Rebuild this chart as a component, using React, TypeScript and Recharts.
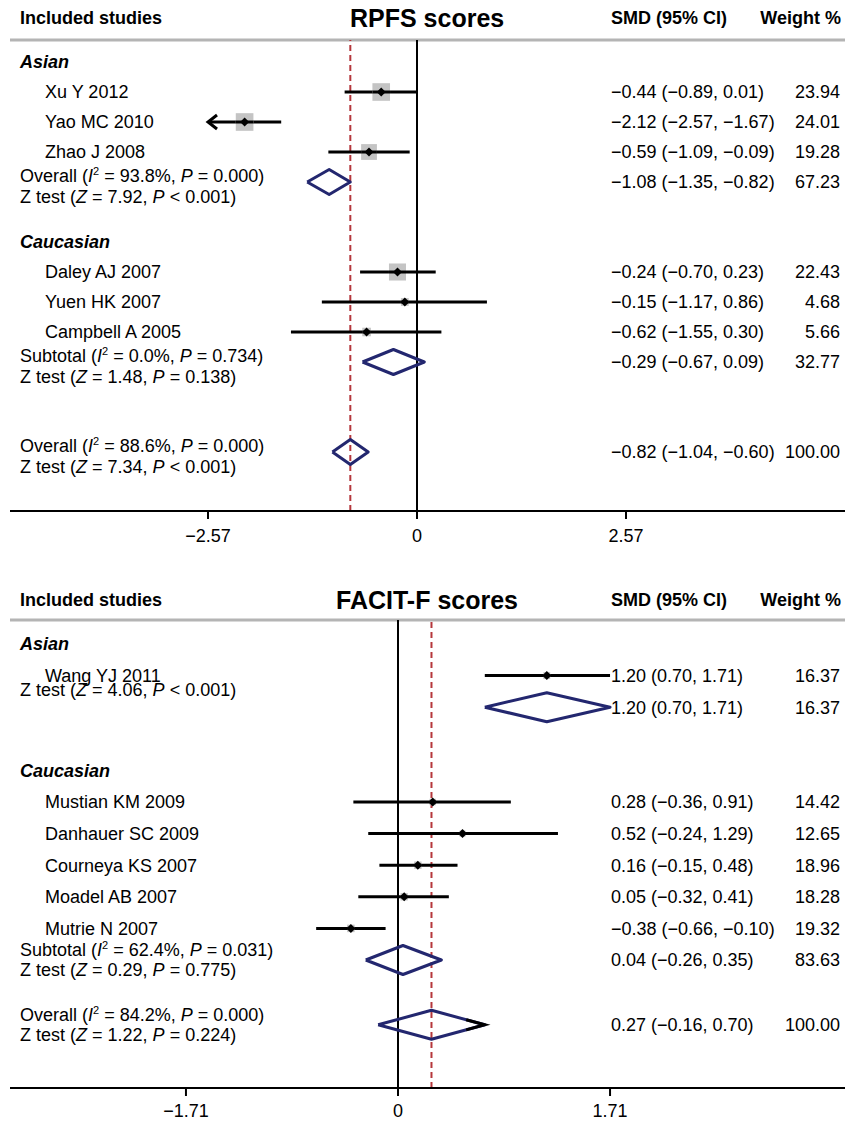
import React from "react";
import { ComposedChart, Scatter, ErrorBar, XAxis, YAxis, ReferenceLine } from "recharts";

document.body.style.margin = "0";

const FONT = '"Liberation Sans", Arial, Helvetica, sans-serif';
const NAVY = "#23276f";
const RED = "#b5373c";
const GREY_SQ = "#c4c4c4";
const W = 854;
const PLOT_L = 10;
const PLOT_R = 845;
const BODY = 18;

// ---- RPFS scores ----
const rpfsAsianStudies = ["Xu Y 2012", "Yao MC 2010", "Zhao J 2008"];
const rpfsAsianSmd = [-0.44, -2.12, -0.59];
const rpfsAsianLow = [-0.89, -2.57, -1.09];
const rpfsAsianHigh = [0.01, -1.67, -0.09];
const rpfsAsianWeight = [23.94, 24.01, 19.28];

const rpfsCaucStudies = ["Daley AJ 2007", "Yuen HK 2007", "Campbell A 2005"];
const rpfsCaucSmd = [-0.24, -0.15, -0.62];
const rpfsCaucLow = [-0.7, -1.17, -1.55];
const rpfsCaucHigh = [0.23, 0.86, 0.3];
const rpfsCaucWeight = [22.43, 4.68, 5.66];

const rpfsPooledLabel = ["Overall", "Subtotal", "Overall"];
const rpfsPooledSmd = [-1.08, -0.29, -0.82];
const rpfsPooledLow = [-1.35, -0.67, -1.04];
const rpfsPooledHigh = [-0.82, 0.09, -0.6];
const rpfsPooledWeight = [67.23, 32.77, 100];
const rpfsPooledI2 = [93.8, 0.0, 88.6];
const rpfsPooledPHet = ["0.000", "0.734", "0.000"];
const rpfsPooledZ = [7.92, 1.48, 7.34];
const rpfsPooledPZ = ["< 0.001", "= 0.138", "< 0.001"];
const rpfsTicks = [-2.57, 0, 2.57];
const rpfsTruncated = ["Yao MC 2010"];

// ---- FACIT-F scores ----
const facitAsianStudies = ["Wang YJ 2011"];
const facitAsianSmd = [1.2];
const facitAsianLow = [0.7];
const facitAsianHigh = [1.71];
const facitAsianWeight = [16.37];

const facitCaucStudies = ["Mustian KM 2009", "Danhauer SC 2009", "Courneya KS 2007", "Moadel AB 2007", "Mutrie N 2007"];
const facitCaucSmd = [0.28, 0.52, 0.16, 0.05, -0.38];
const facitCaucLow = [-0.36, -0.24, -0.15, -0.32, -0.66];
const facitCaucHigh = [0.91, 1.29, 0.48, 0.41, -0.1];
const facitCaucWeight = [14.42, 12.65, 18.96, 18.28, 19.32];

const facitPooledLabel = ["", "Subtotal", "Overall"];
const facitPooledSmd = [1.2, 0.04, 0.27];
const facitPooledLow = [0.7, -0.26, -0.16];
const facitPooledHigh = [1.71, 0.35, 0.7];
const facitPooledWeight = [16.37, 83.63, 100];
const facitPooledI2 = [null, 62.4, 84.2];
const facitPooledPHet = [null, "0.031", "0.000"];
const facitPooledZ = [4.06, 0.29, 1.22];
const facitPooledPZ = ["< 0.001", "= 0.775", "= 0.224"];
const facitTicks = [-1.71, 0, 1.71];
const facitTruncated: string[] = [];

const groupNames = ["Asian", "Caucasian"];

type Group = { name: string; studies: string[]; smd: number[]; low: number[]; high: number[]; weight: number[] };
type Pooled = {
  label: string; smd: number; low: number; high: number; weight: number;
  i2: number | null; pHet: string | null; z: number; pZ: string;
};

const fmt = (v: number) => (v < 0 ? "\u2212" : "") + Math.abs(v).toFixed(2);
const ciText = (s: number, l: number, h: number) => `${fmt(s)} (${fmt(l)}, ${fmt(h)})`;

function makePooled(label: string[], smd: number[], low: number[], high: number[], weight: number[],
  i2: (number | null)[], pHet: (string | null)[], z: number[], pZ: string[]): Pooled[] {
  return label.map((lb, i) => ({
    label: lb, smd: smd[i], low: low[i], high: high[i], weight: weight[i],
    i2: i2[i], pHet: pHet[i], z: z[i], pZ: pZ[i],
  }));
}

type PanelCfg = {
  title: string;
  titleLeft: number;
  height: number;
  plotTop: number;
  plotBottom: number;
  headerY: number;
  zeroPx: number;
  pxPerUnit: number;
  rowBase: number;
  rowUnit: number;
  ticks: number[];
  tickMargin: number;
  groups: Group[];
  pooled: Pooled[];
  truncated: string[];
  groupGap: number;
  overallGap: number;
  diamondHalf: number;
  squareScale: number;
  statsOffset: [number, number];
  blackTip: boolean;
};

const rpfsCfg: PanelCfg = {
  title: "RPFS scores",
  titleLeft: 350,
  height: 560,
  plotTop: 40,
  plotBottom: 511,
  headerY: 18,
  zeroPx: 417,
  pxPerUnit: 81.32,
  rowBase: 62,
  rowUnit: 30,
  ticks: rpfsTicks,
  tickMargin: 10,
  groups: [
    { name: groupNames[0], studies: rpfsAsianStudies, smd: rpfsAsianSmd, low: rpfsAsianLow, high: rpfsAsianHigh, weight: rpfsAsianWeight },
    { name: groupNames[1], studies: rpfsCaucStudies, smd: rpfsCaucSmd, low: rpfsCaucLow, high: rpfsCaucHigh, weight: rpfsCaucWeight },
  ],
  pooled: makePooled(rpfsPooledLabel, rpfsPooledSmd, rpfsPooledLow, rpfsPooledHigh, rpfsPooledWeight,
    rpfsPooledI2, rpfsPooledPHet, rpfsPooledZ, rpfsPooledPZ),
  truncated: rpfsTruncated,
  groupGap: 2,
  overallGap: 3,
  diamondHalf: 12.5,
  squareScale: 3.6,
  statsOffset: [-6, 15],
  blackTip: false,
};

const facitCfg: PanelCfg = {
  title: "FACIT-F scores",
  titleLeft: 336,
  height: 561,
  plotTop: 60,
  plotBottom: 528,
  headerY: 40,
  zeroPx: 398,
  pxPerUnit: 124,
  rowBase: 84,
  rowUnit: 31.6,
  ticks: facitTicks,
  tickMargin: 8,
  groups: [
    { name: groupNames[0], studies: facitAsianStudies, smd: facitAsianSmd, low: facitAsianLow, high: facitAsianHigh, weight: facitAsianWeight },
    { name: groupNames[1], studies: facitCaucStudies, smd: facitCaucSmd, low: facitCaucLow, high: facitCaucHigh, weight: facitCaucWeight },
  ],
  pooled: makePooled(facitPooledLabel, facitPooledSmd, facitPooledLow, facitPooledHigh, facitPooledWeight,
    facitPooledI2, facitPooledPHet, facitPooledZ, facitPooledPZ),
  truncated: facitTruncated,
  groupGap: 2,
  overallGap: 2.05,
  diamondHalf: 14.5,
  squareScale: 1.7,
  statsOffset: [-10, 10],
  blackTip: true,
};

const txt = (cy: number) => cy + BODY * 0.36;

function ForestPanel({ cfg }: { cfg: PanelCfg }) {
  const xDomain: [number, number] = [
    (PLOT_L - cfg.zeroPx) / cfg.pxPerUnit,
    (PLOT_R - cfg.zeroPx) / cfg.pxPerUnit,
  ];
  const yDomain: [number, number] = [
    (cfg.plotTop - cfg.rowBase) / cfg.rowUnit,
    (cfg.plotBottom - cfg.rowBase) / cfg.rowUnit,
  ];
  const dHalf = cfg.diamondHalf / cfg.rowUnit;

  // lay the rows out top to bottom
  const groupRows: any[] = [];
  const studyRows: any[] = [];
  const pooledRows: any[] = [];
  let r = 0;
  cfg.groups.forEach((g, gi) => {
    groupRows.push({ x: 0, y: r, name: g.name });
    r += 1;
    g.studies.forEach((s, i) => {
      studyRows.push({
        x: g.smd[i], y: r, name: s, low: g.low[i], high: g.high[i], weight: g.weight[i],
        err: [g.smd[i] - g.low[i], g.high[i] - g.smd[i]],
      });
      r += 1;
    });
    pooledRows.push({ x: cfg.pooled[gi].smd, y: r, ...cfg.pooled[gi] });
    r += cfg.groupGap;
  });
  r = r - cfg.groupGap + cfg.overallGap;
  const overall = cfg.pooled[cfg.pooled.length - 1];
  pooledRows.push({ x: overall.smd, y: r, ...overall });

  const diamonds = pooledRows.map((p) => [
    { x: p.low, y: p.y },
    { x: p.smd, y: p.y - dHalf },
    { x: p.high, y: p.y },
    { x: p.smd, y: p.y + dHalf },
    { x: p.low, y: p.y },
  ]);
  const tipLen = 0.15;
  const tip = (() => {
    const p = pooledRows[pooledRows.length - 1];
    const f = tipLen / (p.high - p.smd);
    return [
      { x: p.high - tipLen, y: p.y - dHalf * f },
      { x: p.high, y: p.y },
      { x: p.high - tipLen, y: p.y + dHalf * f },
    ];
  })();
  const arrows = studyRows.filter((s) => cfg.truncated.includes(s.name)).map((s) => ({ x: s.low, y: s.y }));

  const GroupLabel = (props: any) => (
    <text x={20} y={txt(props.cy)} fontFamily={FONT} fontSize={BODY} fontWeight="bold" fontStyle="italic" fill="#000">
      {props.payload.name}
    </text>
  );

  const StudyMark = (props: any) => {
    const { cx, cy, payload } = props;
    const side = Math.sqrt(payload.weight) * cfg.squareScale;
    const d = 4.5;
    return (
      <g>
        <rect x={cx - side / 2} y={cy - side / 2} width={side} height={side} fill={GREY_SQ} />
        <line x1={cx - side / 2} x2={cx + side / 2} y1={cy} y2={cy} stroke="#000" strokeWidth={3} />
        <path d={`M${cx - d},${cy} L${cx},${cy - d} L${cx + d},${cy} L${cx},${cy + d} Z`} fill="#000" />
        <text x={45} y={txt(cy)} fontFamily={FONT} fontSize={BODY} fill="#000">{payload.name}</text>
        <text x={611} y={txt(cy)} fontFamily={FONT} fontSize={BODY} fill="#000">
          {ciText(payload.x, payload.low, payload.high)}
        </text>
        <text x={840} y={txt(cy)} textAnchor="end" fontFamily={FONT} fontSize={BODY} fill="#000">
          {payload.weight.toFixed(2)}
        </text>
      </g>
    );
  };

  const Chevron = (props: any) => {
    const { cx, cy } = props;
    return (
      <polyline points={`${cx + 9},${cy - 7} ${cx},${cy} ${cx + 9},${cy + 7}`} fill="none" stroke="#000" strokeWidth={3} />
    );
  };

  const PooledText = (props: any) => {
    const { cy, payload: p } = props;
    const [o1, o2] = cfg.statsOffset;
    const hasHet = p.i2 !== null && p.i2 !== undefined;
    return (
      <g fontFamily={FONT} fontSize={BODY} fill="#000">
        {hasHet && (
          <text x={20} y={txt(cy + o1)}>
            {p.label} (<tspan fontStyle="italic">I</tspan>
            <tspan fontSize={11} dy={-7}>2</tspan>
            <tspan dy={7}> = {p.i2.toFixed(1)}%, </tspan>
            <tspan fontStyle="italic">P</tspan> = {p.pHet})
          </text>
        )}
        <text x={20} y={txt(hasHet ? cy + o2 : cy - 18)}>
          Z test (<tspan fontStyle="italic">Z</tspan> = {p.z.toFixed(2)}, <tspan fontStyle="italic">P</tspan> {p.pZ})
        </text>
        <text x={611} y={txt(cy)}>{ciText(p.smd, p.low, p.high)}</text>
        <text x={840} y={txt(cy)} textAnchor="end">{p.weight.toFixed(2)}</text>
      </g>
    );
  };

  const Empty = () => <g />;
  const tickFmt = (v: number) => (v === 0 ? "0" : fmt(v));

  const headStyle: React.CSSProperties = {
    position: "absolute",
    top: cfg.headerY - 12,
    height: 24,
    lineHeight: "24px",
    fontFamily: FONT,
    fontWeight: "bold",
    fontSize: 18,
    color: "#000",
    whiteSpace: "nowrap",
  };

  return (
    <div style={{ position: "relative", width: W, height: cfg.height }}>
      <ComposedChart
        width={W}
        height={cfg.height}
        margin={{ top: cfg.plotTop, right: W - PLOT_R, left: PLOT_L, bottom: cfg.height - cfg.plotBottom - 30 }}
      >
        <XAxis
          type="number"
          dataKey="x"
          domain={xDomain}
          allowDataOverflow
          ticks={cfg.ticks}
          interval={0}
          tickFormatter={tickFmt}
          height={30}
          tickSize={8}
          tickMargin={cfg.tickMargin}
          axisLine={{ stroke: "#000", strokeWidth: 2 }}
          tickLine={{ stroke: "#000", strokeWidth: 2 }}
          tick={{ fill: "#000", fontSize: BODY, fontFamily: FONT }}
        />
        <YAxis type="number" dataKey="y" domain={yDomain} allowDataOverflow reversed hide />
        <ReferenceLine y={yDomain[0]} stroke="#b4b4b4" strokeWidth={3} />
        <ReferenceLine x={0} stroke="#000" strokeWidth={2} />
        <ReferenceLine x={overall.smd} stroke={RED} strokeWidth={2} strokeDasharray="6 4" />
        <Scatter data={groupRows} shape={GroupLabel} isAnimationActive={false} />
        <Scatter data={studyRows} shape={StudyMark} isAnimationActive={false}>
          <ErrorBar dataKey="err" direction="x" width={0} stroke="#000" strokeWidth={3} />
        </Scatter>
        <Scatter data={arrows} shape={Chevron} isAnimationActive={false} />
        {diamonds.map((d, i) => (
          <Scatter
            key={i}
            data={d}
            shape={Empty}
            line={{ stroke: NAVY, strokeWidth: 3, strokeLinejoin: "round" }}
            isAnimationActive={false}
          />
        ))}
        {cfg.blackTip && (
          <Scatter data={tip} shape={Empty} line={{ stroke: "#000", strokeWidth: 3 }} isAnimationActive={false} />
        )}
        <Scatter data={pooledRows} shape={PooledText} isAnimationActive={false} />
      </ComposedChart>
      <div style={{ ...headStyle, left: 20 }}>Included studies</div>
      <div style={{ ...headStyle, left: cfg.titleLeft, fontSize: 25, top: cfg.headerY - 16, height: 32, lineHeight: "32px" }}>
        {cfg.title}
      </div>
      <div style={{ ...headStyle, left: 611 }}>SMD (95% CI)</div>
      <div style={{ ...headStyle, right: W - 841 }}>Weight %</div>
    </div>
  );
}

export default function App() {
  return (
    <div style={{ width: W, height: 1121, background: "#fff", position: "relative" }}>
      <ForestPanel cfg={rpfsCfg} />
      <ForestPanel cfg={facitCfg} />
    </div>
  );
}
